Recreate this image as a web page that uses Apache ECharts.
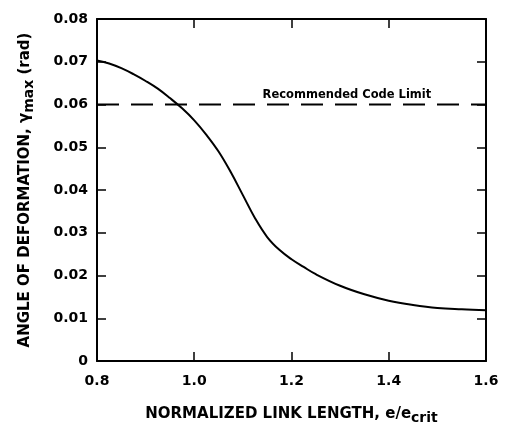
<!DOCTYPE html>
<html>
<head>
<meta charset="utf-8">
<script src="https://cdn.jsdelivr.net/npm/echarts@6/dist/echarts.min.js"></script>
<style>
  html, body { margin: 0; padding: 0; background: #fff; }
  #chart { width: 506px; height: 425px; }
</style>
</head>
<body>
<div id="chart"></div>
<script>
// Normalized link length e/e_crit and maximum deformation angle (rad)
const linkLength = [0.80, 0.825, 0.85, 0.875, 0.90, 0.925, 0.95, 0.975, 1.00, 1.025, 1.05, 1.075, 1.10, 1.125, 1.15, 1.175, 1.20, 1.225, 1.25, 1.30, 1.35, 1.40, 1.45, 1.50, 1.55, 1.60];
const gammaMax   = [0.0703, 0.0696, 0.0685, 0.0671, 0.0655, 0.0637, 0.0615, 0.0591, 0.0563, 0.0529, 0.0490, 0.0442, 0.0388, 0.0334, 0.0290, 0.0260, 0.0238, 0.0220, 0.0203, 0.0176, 0.0156, 0.0141, 0.0131, 0.0124, 0.0121, 0.0119];

// Recommended code limit
const codeLimit = 0.06;
const codeLimitLabel = 'Recommended Code Limit';
const codeLimitLabelAt = 1.314;

// Axis ranges and ticks
const xRange = [0.8, 1.6], xStep = 0.2;
const yRange = [0, 0.08], yStep = 0.01;

const FONT = 'DejaVu Sans';
const ink = '#000';

const curve = linkLength.map((x, i) => [x, gammaMax[i]]);

const chart = echarts.init(document.getElementById('chart'), null, { renderer: 'canvas' });

const frameLine = { show: true, onZero: false, lineStyle: { color: ink, width: 2 } };
const innerTick = { show: true, inside: true, length: 9, lineStyle: { color: ink, width: 1.5 } };

const baseX = {
  type: 'value', min: xRange[0], max: xRange[1], interval: xStep,
  axisLine: frameLine, axisTick: innerTick, splitLine: { show: false }
};
const baseY = {
  type: 'value', min: yRange[0], max: yRange[1], interval: yStep,
  axisLine: frameLine, axisTick: innerTick, splitLine: { show: false }
};

const nameStyle = {
  color: ink, fontFamily: FONT, fontWeight: 'bold', fontSize: 15, lineHeight: 16,
  rich: {
    sub: { color: ink, fontFamily: FONT, fontWeight: 'bold', fontSize: 14, lineHeight: 22, verticalAlign: 'bottom' }
  }
};

chart.setOption({
  backgroundColor: '#fff',
  animation: false,
  grid: { left: 97, right: 20, top: 19, bottom: 64, containLabel: false, outerBoundsMode: 'none' },
  xAxis: [
    Object.assign({}, baseX, {
      position: 'bottom',
      axisLabel: {
        color: ink, fontFamily: FONT, fontWeight: 'bold', fontSize: 14, margin: 13,
        formatter: v => v.toFixed(1)
      },
      name: 'NORMALIZED LINK LENGTH, e/e{sub|crit}',
      nameLocation: 'middle',
      nameGap: 42,
      nameTextStyle: nameStyle
    }),
    Object.assign({}, baseX, { position: 'top', axisLabel: { show: false } })
  ],
  yAxis: [
    Object.assign({}, baseY, {
      position: 'left',
      axisLabel: {
        color: ink, fontFamily: FONT, fontWeight: 'bold', fontSize: 14, margin: 9,
        formatter: v => (v === 0 ? '0' : v.toFixed(2))
      },
      name: 'ANGLE OF DEFORMATION, γ{sub|max} (rad)',
      nameLocation: 'middle',
      nameGap: 61,
      nameRotate: 90,
      nameTextStyle: nameStyle
    }),
    Object.assign({}, baseY, { position: 'right', axisLabel: { show: false } })
  ],
  series: [
    {
      type: 'line',
      data: curve,
      smooth: 0.4,
      showSymbol: false,
      lineStyle: { color: ink, width: 2 },
      z: 3
    },
    {
      type: 'line',
      data: [[xRange[0], codeLimit], [xRange[1], codeLimit]],
      showSymbol: false,
      lineStyle: { color: ink, width: 2, type: [22, 12] },
      markPoint: {
        symbol: 'circle',
        symbolSize: 0,
        data: [{ coord: [codeLimitLabelAt, codeLimit] }],
        label: {
          show: true,
          position: 'top',
          distance: 3,
          formatter: codeLimitLabel,
          color: ink, fontFamily: FONT, fontWeight: 'bold', fontSize: 11.5
        }
      },
      z: 2
    }
  ]
});
</script>
</body>
</html>
